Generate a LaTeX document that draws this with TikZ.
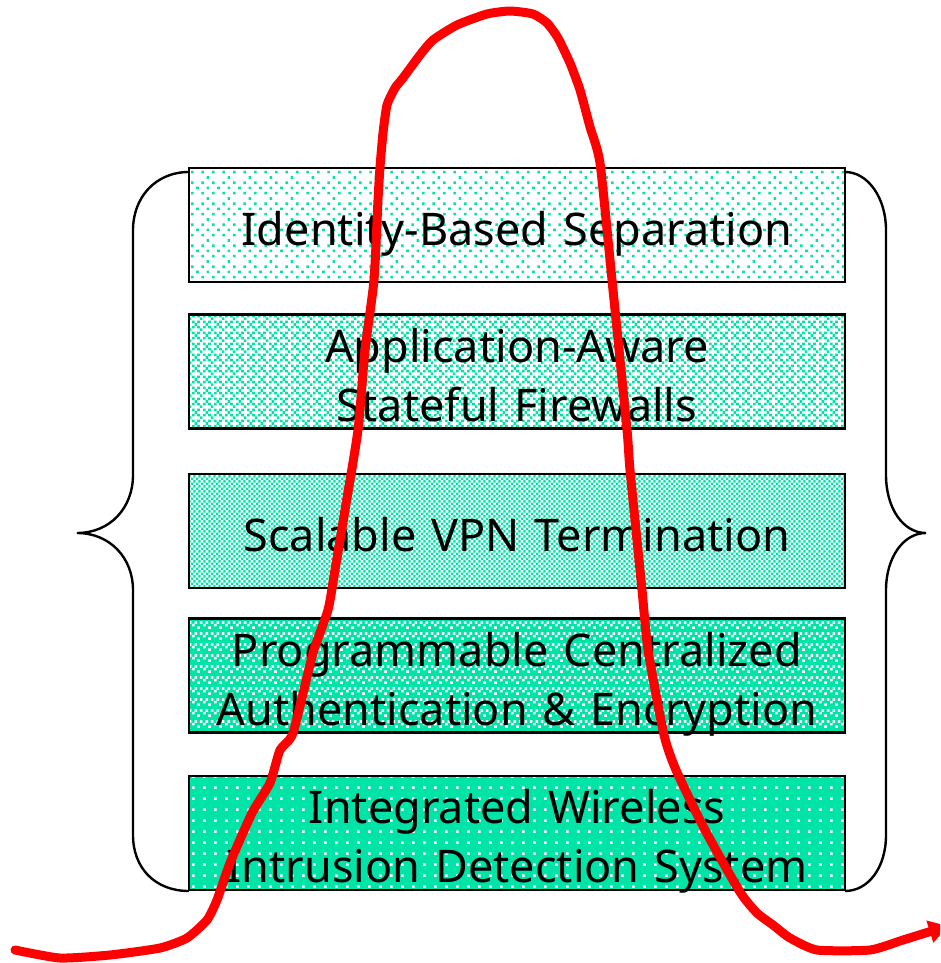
\documentclass[tikz,border=0pt]{standalone}
\usepackage{fontspec}
\setmainfont{Noto Sans}
\usetikzlibrary{patterns,arrows.meta}
\definecolor{boxgreen}{RGB}{0,228,168}
\definecolor{curvered}{RGB}{255,0,0}
\newcommand{\pc}[2]{\pgfpathrectangle{\pgfqpoint{\dimexpr2.6667pt*#1\relax}{\dimexpr2.6667pt*#2\relax}}{\pgfqpoint{2.6667pt}{2.6667pt}}}
\pgfdeclarepatternformonly{pctA}{\pgfqpoint{0pt}{0pt}}{\pgfqpoint{21.333pt}{21.333pt}}{\pgfqpoint{21.333pt}{21.333pt}}{%
  \pc{6}{7}\pc{0}{5}\pc{4}{5}\pc{2}{3}\pc{6}{3}\pc{0}{1}\pc{4}{1}\pgfusepath{fill}}
\pgfdeclarepatternformonly{pctB}{\pgfqpoint{0pt}{0pt}}{\pgfqpoint{10.667pt}{10.667pt}}{\pgfqpoint{10.667pt}{10.667pt}}{%
  \pc{0}{3}\pc{2}{3}\pc{1}{2}\pc{0}{1}\pc{2}{1}\pc{3}{0}\pgfusepath{fill}}
\pgfdeclarepatternformonly{pctC}{\pgfqpoint{0pt}{0pt}}{\pgfqpoint{5.333pt}{5.333pt}}{\pgfqpoint{5.333pt}{5.333pt}}{%
  \pc{0}{0}\pc{1}{1}\pgfusepath{fill}}
\pgfdeclarepatternformonly{pctD}{\pgfqpoint{0pt}{0pt}}{\pgfqpoint{10.667pt}{10.667pt}}{\pgfqpoint{10.667pt}{10.667pt}}{%
  \pc{1}{2}\pc{3}{2}\pc{0}{1}\pc{2}{0}\pgfusepath{fill}}
\pgfdeclarepatternformonly{pctE}{\pgfqpoint{0pt}{0pt}}{\pgfqpoint{10.667pt}{10.667pt}}{\pgfqpoint{10.667pt}{10.667pt}}{%
  \pc{0}{0}\pgfusepath{fill}}
\tikzset{
  layerbox/.style={draw=black,line width=2.8pt,minimum width=656pt,minimum height=114pt,inner xsep=0pt,inner ysep=-10pt,
    outer sep=0pt,text width=656pt,align=center,font=\fontsize{45}{59}\selectfont,
    execute at begin node={\rule{0pt}{52pt}},execute at end node={\rule[-12pt]{0pt}{12pt}}},
  lightbox/.style={layerbox,preaction={fill=white},pattern=#1,pattern color=boxgreen},
  darkbox/.style={layerbox,preaction={fill=boxgreen},pattern=#1,pattern color=white},
  bracket/.style={draw=black,line width=2.4pt},
  sweep/.style={draw=curvered,line width=9pt,line join=round,line cap=round}
}
\begin{document}
\begin{tikzpicture}[x=1pt,y=-1pt]
\useasboundingbox (0,0) rectangle (940,963);
\clip (0,0) rectangle (940,963);
\fill[white] (0,0) rectangle (940,963);
\node[lightbox=pctA] (b1) at (517,225) {Identity-Based Separation};
\node[lightbox=pctB] (b2) at (517,371.5) {Application-Aware\\Stateful Firewalls};
\node[lightbox=pctC] (b3) at (517,531) {Scalable VPN Termination};
\node[darkbox=pctD] (b4) at (517,675.5) {Programmable Centralized\\Authentication \& Encryption};
\node[darkbox=pctE] (b5) at (517,833) {Integrated Wireless\\Intrusion Detection System};
\draw[bracket] (189,172) .. controls (155,172) and (133,198) .. (133,230) -- (133,475)
  .. controls (133,508) and (110,533) .. (77,533) .. controls (110,533) and (133,558) .. (133,590)
  -- (133,835) .. controls (133,868) and (155,891) .. (189,891);
\draw[bracket] (845,172) .. controls (868,172) and (886,198) .. (886,230) -- (886,475)
  .. controls (886,508) and (903,533) .. (926,533) .. controls (903,533) and (886,558) .. (886,590)
  -- (886,835) .. controls (886,868) and (868,891) .. (845,891);
\draw[sweep,-{Triangle[length=19pt,width=22pt]}] plot[smooth,tension=0.35] coordinates {
 (15,950) (60,958) (110,955) (160,948) (187,938) (207,920) (217,900) (230,863) (252,813) (270,783)
 (280,750) (293,733) (313,653) (328,610) (335,570) (345,510) (358,430) (365,350) (374,280) (378,200)
 (380,167) (383,133) (387,105) (395,88) (403,78) (420,55) (433,40) (457,25) (487,14) (510,11)
 (533,14) (547,23) (558,38) (570,63) (580,90) (590,127) (600,163) (612,280) (627,430) (630,470)
 (642,590) (648,650) (664,735) (676,770) (705,830) (740,892) (757,913) (773,925) (790,938) (817,950)
 (870,950) (903,940) (948,926)};
\end{tikzpicture}
\end{document}
